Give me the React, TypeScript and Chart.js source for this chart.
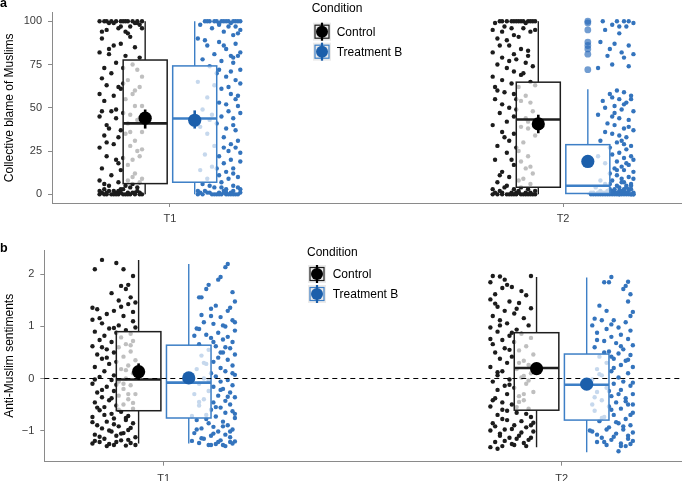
import React, { useEffect, useRef } from "react";
import { Chart, registerables } from "chart.js";
Chart.register(...registerables);

// ---------- data ----------
const categories = ["T1", "T2"];
const conditions = ["Control", "Treatment B"];
const blameTicks = [0, 25, 50, 75, 100];
const sentimentTicks = [-1, 0, 1, 2];

// Panel a: box / mean statistics, index 0 = T1, 1 = T2
const blameControlQ1 = [6.2, 4.1];
const blameControlMedian = [41, 43.2];
const blameControlQ3 = [77.6, 64.8];
const blameControlWhiskerLow = [0, 0];
const blameControlWhiskerHigh = [100, 100];
const blameControlMean = [44, 40.7];
const blameControlCiLow = [38, 35.3];
const blameControlCiHigh = [49, 46];

const blameTreatQ1 = [7, 0.5];
const blameTreatMedian = [43.8, 5];
const blameTreatQ3 = [74.2, 28.7];
const blameTreatWhiskerLow = [0, 0];
const blameTreatWhiskerHigh = [100, 60.7];
const blameTreatMean = [42.8, 19];
const blameTreatCiLow = [38, 16];
const blameTreatCiHigh = [48.5, 22.4];
const blameTreatT2Outliers = [100, 99, 95, 88, 86, 84, 81, 72];

// Panel b
const sentControlQ1 = [-0.62, -0.61];
const sentControlMedian = [-0.02, 0.2];
const sentControlQ3 = [0.9, 0.88];
const sentControlWhiskerLow = [-1.25, -1.32];
const sentControlWhiskerHigh = [2.28, 1.95];
const sentControlMean = [0.13, 0.19];
const sentControlCiLow = [-0.03, 0.08];
const sentControlCiHigh = [0.29, 0.3];

const sentTreatQ1 = [-0.76, -0.8];
const sentTreatMedian = [-0.08, -0.12];
const sentTreatQ3 = [0.64, 0.47];
const sentTreatWhiskerLow = [-1.25, -1.42];
const sentTreatWhiskerHigh = [2.2, 1.94];
const sentTreatMean = [0.01, -0.11];
const sentTreatCiLow = [-0.1, -0.22];
const sentTreatCiHigh = [0.12, 0.0];

// jittered raw responses: [jitter step, value]
const blameControlT1: [number, number][] = [[-7,100],[-4,100],[-2,100],[0,100],[1,100],[3,100],[5,100],[7,100],[9,100],[-9,100],[6,99],[-5,99],[8,98],
[-1,96],[4,97],[-6,95],[2,94],[9,96],[-8,90],[3,93],
[0,87],[-3,86],[6,85],[-9,82],[-5,81],[2,80],[8,79],
[-2,76],[5,75],[-7,73],[1,73],[-4,70],[7,72],[9,68],
[-8,67],[3,66],[-6,63],[0,61],[-1,62],[6,60],[8,62],
[-3,57],[2,55],[-7,54],[5,58],[9,51],
[-8,48],[-4,48],[-2,49],[1,47],[4,46],[7,43],[-9,45],[3,41],[8,44],[-6,40],
[-5,38],[0,37],[2,35],[-7,34],[6,31],[-1,33],[9,36],
[-3,29],[-9,27],[4,28],[7,25],[-6,22],[1,21],[-2,20],[5,20],[8,22],
[-8,15],[0,14],[3,17],[-4,11],[6,12],[9,9],
[-9,8],[-5,5],[-1,7],[2,5],[5,6],[8,7],[-7,3],[-3,2],[0,3],[4,4],[7,2],
[-9,0],[-8,1],[-6,0],[-4,0],[-2,1],[-1,0],[1,0],[3,1],[4,0],[6,0],[8,1],[9,0],[-7,0],[-1,2],[2,0],[5,1],
[-6,100],[2,100],[-3,99],[7,99],[0,97],[-8,94],[4,91],[-5,84],[1,64],[-9,58],[6,51],[-2,44],[4,36],[-6,30],[9,26],[-1,18],[5,10],[-7,6],[3,8],[-5,2],[1,3],[7,4],[-9,2],[-2,0],[0,1],[6,1],[-6,1],[3,0],[8,0],[-3,0]];

const blameTreatT1: [number, number][] = [[-6,100],[-4,100],[-1,100],[1,100],[3,100],[4,100],[6,100],[8,100],[9,100],[0,99],[-8,98],[5,99],[7,97],
[-3,96],[2,94],[6,92],[-9,90],[9,95],[0,88],[-5,86],[7,87],[3,84],[9,82],[-2,81],[5,80],[8,80],[-7,78],[1,77],[6,76],
[-4,74],[0,72],[5,71],[9,72],[3,68],[7,66],[-9,65],[-2,63],[9,64],[1,61],[5,58],[-5,56],[7,55],[0,53],[3,52],[8,51],
[-7,49],[4,48],[-3,46],[1,45],[6,44],[9,47],[-1,41],[-8,39],[3,38],[7,37],[-5,35],[2,33],[8,31],[5,29],[-2,28],[7,27],[4,25],
[-6,23],[0,22],[9,24],[5,20],[2,18],[-3,16],[6,15],[-8,14],[3,13],[0,11],[-5,9],[4,9],[8,10],[-7,6],[1,7],[6,5],
[-2,4],[3,3],[-9,2],[9,3],[-5,1],[-4,1],[0,1],[2,2],[5,1],[7,0],[-7,0],[-1,0],[3,0],[8,0],[-9,0],[1,0],[5,0],[-3,0],[9,1],[6,2],
[-2,100],[2,100],[7,100],[-5,100],[0,98],[4,97],[8,93],[-6,89],[2,86],[6,79],[-1,70],[4,62],[8,57],[-4,43],[6,40],[2,27],[9,19],[-1,15],[6,12],[-4,5],[1,4],[8,4],[-6,2],[3,1],[-2,0],[4,0],[6,0],[0,0],[-8,1],[2,1]];

const blameControlT2: [number, number][] = [[-6,100],[-3,100],[0,100],[2,100],[3,100],[4,100],[6,100],[8,100],[-8,99],[5,99],
[-9,95],[-5,94],[-1,96],[7,94],[9,95],[-7,90],[-3,89],[2,91],[-2,86],[3,84],[-9,82],[0,81],[6,83],[-5,79],[1,78],[-7,75],[5,76],[-3,73],[8,74],[0,71],
[-9,68],[3,69],[-5,66],[7,65],[-1,64],[2,62],[9,63],[-7,60],[-4,59],[0,58],[5,57],[-8,55],[3,54],[-5,52],[7,53],[-2,50],[1,49],[-6,47],[8,48],[0,45],[5,44],[-3,42],
[-9,40],[3,39],[6,38],[-5,36],[0,35],[9,34],[-2,31],[4,30],[-7,28],[1,27],[-3,24],[6,22],[-8,20],[3,19],[0,17],[5,15],[-5,13],[8,12],[-2,10],[2,8],[-7,7],[7,6],
[-3,5],[3,4],[-9,3],[0,3],[9,2],[-5,1],[-1,1],[1,1],[5,1],[-7,0],[-3,0],[0,0],[3,0],[6,0],[-9,0],[-2,0],[4,0],[8,0],[-6,2],[2,2],[7,1],[9,0],
[-5,100],[-1,100],[1,100],[7,100],[9,100],[-4,97],[4,96],[0,92],[-6,86],[6,80],[-2,77],[4,70],[-8,62],[1,55],[6,42],[-4,33],[2,25],[-1,20],[7,16],[-6,11],[4,9],[-4,4],[6,3],[-8,1],[2,1],[-1,0],[5,0],[7,0],[1,0],[-5,0]];

const blameTreatT2: [number, number][] = [[-4,100],[2,100],[7,100],[9,99],[0,98],[6,97],[-3,95],[3,93],[-5,88],[1,87],[7,86],[-1,84],[4,82],[9,81],[-2,80],[5,79],[0,75],[-6,73],[7,74],
[2,60],[5,59],[-1,58],[8,57],[0,56],[3,55],[-4,54],[6,53],[1,51],[-3,50],[4,49],[9,48],[-6,46],[0,45],[3,44],[7,43],[-2,41],[1,40],[5,38],[9,37],[-3,36],[0,35],[3,34],[6,33],[-5,31],[2,30],[5,29],[8,28],[-1,27],[6,26],[3,24],[0,23],[-6,22],[5,21],[9,20],[2,19],[-3,18],[7,17],[4,16],[1,15],[5,14],[9,13],
[-1,12],[2,11],[7,10],[4,9],[-5,8],[0,8],[5,7],[8,6],[-3,6],[2,5],[6,5],[-7,4],[3,4],[-1,3],[5,3],[8,3],[0,2],[-5,2],[3,2],[7,2],[-9,1],[-3,1],[1,1],[4,1],[9,1],[-7,0],[-2,0],[0,0],[2,0],[6,0],[-9,0],[-5,0],[1,0],[4,0],[8,0],[-4,0],[3,0],[5,0],[7,0],[9,0],[-8,1],[-6,1],[-1,0],
[-8,0],[-6,0],[-3,0],[0,1],[2,1],[4,2],[6,1],[8,0],[-2,2],[1,3],[3,0],[5,2],[7,3],[9,0],[-4,1],[6,4],[8,5],[-1,6],[4,7],[9,9],[2,14],[6,18],[8,22],[4,31],[7,39],[1,47],[5,52],[8,55],[3,97],[5,100]];

const sentControlT1: [number, number][] = [[-5,2.28],[1,2.22],[-8,2.1],[4,2.1],[8,1.97],[6,1.8],[3,1.78],[5,1.72],[-1,1.64],[7,1.56],[2,1.5],[9,1.46],[6,1.43],[-9,1.36],[-7,1.33],[0,1.3],[-3,1.24],[4,1.2],[-9,1.13],[8,1.1],[-5,1.06],[2,1.02],[9,0.98],[-2,0.96],[5,0.93],[-8,0.9],[1,0.88],[7,0.86],[-4,0.82],[3,0.79],[-6,0.74],[8,0.72],[-1,0.7],[5,0.66],[-9,0.62],[2,0.6],[-3,0.56],[7,0.52],[0,0.5],[-7,0.46],[4,0.42],[-5,0.38],[9,0.35],[1,0.32],[-2,0.28],[6,0.25],[-8,0.22],[3,0.18],[-4,0.14],[8,0.1],[0,0.06],[-6,0.03],[5,0.0],[-1,-0.03],[2,-0.06],[-9,-0.1],[7,-0.13],[-3,-0.16],[4,-0.2],[0,-0.24],[-7,-0.27],[9,-0.3],[2,-0.33],[-5,-0.36],[6,-0.4],[-2,-0.42],[-8,-0.46],[4,-0.5],[1,-0.52],[-4,-0.55],[8,-0.58],[-6,-0.61],[3,-0.64],[-1,-0.68],[6,-0.72],[-9,-0.74],[0,-0.77],[5,-0.8],[-3,-0.83],[8,-0.86],[-7,-0.9],[2,-0.92],[-5,-0.96],[6,-0.99],[-1,-1.02],[4,-1.05],[-8,-1.08],[1,-1.1],[9,-1.13],[-4,-1.16],[3,-1.19],[-6,-1.22],[7,-1.24],[-2,-1.26],[0,-1.28],[-9,-1.25],[5,-1.29],
[3,1.38],[-6,1.16],[0,0.97],[7,0.64],[-3,0.4],[5,0.16],[-8,-0.02],[1,-0.12],[-5,-0.22],[6,-0.3],[-1,-0.38],[8,-0.47],[-7,-0.56],[2,-0.6],[-4,-0.7],[5,-0.76],[-9,-0.84],[0,-0.88],[7,-0.95],[-2,-1.0],[3,-1.06],[-6,-1.12],[6,-1.18],[-8,-1.2],[1,-1.22],[9,-1.28],[-3,-1.3],[4,-0.1],[-5,0.6],[8,1.28]];

const sentTreatT1: [number, number][] = [[6,2.2],[5,2.14],[3,1.95],[-2,1.8],[-3,1.72],[8,1.66],[-6,1.56],[9,1.48],[1,1.4],[-1,1.34],[6,1.3],[-5,1.22],[3,1.18],[8,1.12],[-4,1.08],[0,1.05],[5,1.0],[-7,0.96],[9,0.92],[2,0.88],[-3,0.84],[6,0.8],[-1,0.78],[4,0.75],[8,0.7],[-6,0.66],[1,0.62],[7,0.58],[-2,0.55],[4,0.5],[9,0.46],[-5,0.44],[2,0.4],[6,0.36],[0,0.32],[-3,0.28],[8,0.25],[3,0.2],[-7,0.18],[5,0.14],[-1,0.1],[9,0.07],[1,0.04],[-4,0.0],[6,-0.03],[3,-0.06],[-6,-0.1],[8,-0.13],[0,-0.16],[4,-0.2],[-2,-0.24],[7,-0.27],[-8,-0.3],[2,-0.33],[9,-0.36],[-4,-0.4],[5,-0.43],[0,-0.46],[7,-0.5],[-6,-0.52],[3,-0.56],[-1,-0.6],[8,-0.63],[5,-0.66],[-3,-0.7],[1,-0.73],[9,-0.76],[-7,-0.8],[4,-0.83],[-2,-0.86],[6,-0.9],[0,-0.93],[-5,-0.96],[8,-0.98],[2,-1.02],[-8,-1.05],[5,-1.08],[-1,-1.1],[7,-1.13],[-4,-1.16],[3,-1.19],[9,-1.21],[-6,-1.24],[1,-1.26],[-2,-1.28],[4,-1.28],[-9,-1.2],[7,-1.22],
[2,1.9],[-5,1.56],[7,1.36],[-1,1.2],[4,1.02],[-8,0.82],[0,0.7],[5,0.6],[-4,0.3],[8,0.1],[-2,-0.04],[3,-0.22],[6,-0.35],[-6,-0.45],[1,-0.55],[9,-0.68],[-3,-0.78],[4,-0.92],[-7,-0.98],[7,-1.02],[0,-1.06],[-5,-1.15],[2,-1.22],[8,-1.25],[-1,-1.28],[5,-1.3],[-9,-0.72],[3,0.5],[-6,0.95],[9,1.08]];

const sentControlT2: [number, number][] = [[-8,1.97],[-5,1.96],[8,1.97],[-9,1.85],[-2,1.8],[-4,1.74],[0,1.76],[-7,1.62],[6,1.6],[-9,1.52],[-1,1.48],[3,1.45],[-6,1.38],[8,1.35],[-3,1.3],[1,1.25],[-8,1.2],[5,1.16],[-5,1.12],[-2,1.06],[7,1.02],[-9,0.98],[2,0.94],[-6,0.9],[4,0.86],[-1,0.82],[8,0.78],[-4,0.74],[1,0.7],[-8,0.66],[6,0.62],[-3,0.58],[3,0.54],[-7,0.5],[9,0.46],[0,0.42],[-5,0.38],[5,0.34],[-2,0.3],[7,0.26],[-9,0.22],[2,0.18],[-4,0.14],[8,0.1],[-6,0.06],[4,0.02],[-1,-0.02],[-8,-0.06],[6,-0.1],[-3,-0.14],[1,-0.18],[-6,-0.22],[9,-0.26],[-2,-0.3],[3,-0.34],[-7,-0.38],[5,-0.42],[-4,-0.46],[0,-0.5],[-9,-0.54],[7,-0.58],[-2,-0.62],[2,-0.66],[-6,-0.7],[8,-0.74],[-4,-0.78],[4,-0.82],[-8,-0.86],[1,-0.9],[6,-0.94],[-3,-0.98],[9,-1.02],[-5,-1.06],[3,-1.1],[-1,-1.14],[7,-1.18],[-7,-1.22],[0,-1.26],[-4,-1.3],[-6,-1.35],[5,-1.24],[2,-1.16],[-9,-1.0],[8,-0.9],
[-3,1.9],[4,1.68],[-7,1.44],[2,1.34],[-5,1.02],[0,0.88],[-9,0.76],[3,0.3],[-6,0.12],[7,-0.04],[-1,-0.12],[5,-0.3],[-8,-0.42],[2,-0.55],[-4,-0.6],[6,-0.68],[-2,-0.8],[9,-0.85],[-7,-0.92],[0,-0.97],[4,-1.04],[-5,-1.1],[8,-1.14],[-3,-1.2],[1,-1.28],[6,-1.3],[-9,-1.32],[3,-0.45],[-1,0.55],[5,0.05]];

const sentTreatT2: [number, number][] = [[0,1.95],[-3,1.85],[-1,1.85],[7,1.86],[6,1.78],[8,1.62],[7,1.48],[-5,1.4],[9,1.28],[-7,1.15],[-4,1.12],[1,1.12],[6,1.08],[-8,1.02],[3,0.98],[-2,0.95],[8,0.92],[-6,0.88],[4,0.84],[0,0.8],[7,0.76],[-3,0.72],[2,0.68],[9,0.64],[-7,0.6],[5,0.56],[-1,0.52],[3,0.48],[8,0.45],[-5,0.42],[1,0.38],[6,0.34],[-2,0.3],[4,0.26],[9,0.22],[-6,0.18],[0,0.14],[7,0.1],[-4,0.06],[3,0.02],[-8,-0.02],[5,-0.06],[1,-0.1],[8,-0.14],[-2,-0.18],[4,-0.22],[-6,-0.26],[9,-0.3],[0,-0.34],[6,-0.38],[-4,-0.42],[2,-0.46],[7,-0.5],[-1,-0.54],[4,-0.58],[-7,-0.62],[9,-0.66],[1,-0.7],[-3,-0.74],[6,-0.78],[-5,-0.82],[3,-0.86],[8,-0.9],[-1,-0.94],[5,-0.98],[-8,-1.02],[2,-1.06],[7,-1.1],[-4,-1.14],[0,-1.18],[9,-1.2],[-6,-1.22],[4,-1.25],[-2,-1.28],[6,-1.3],[3,-1.4],[-9,-1.0],[9,-0.5],
[5,1.72],[-2,1.3],[8,1.2],[0,1.04],[-6,0.74],[4,0.62],[-3,0.5],[7,0.36],[1,0.2],[-5,0.08],[9,-0.08],[-1,-0.24],[3,-0.3],[-7,-0.36],[6,-0.44],[0,-0.6],[8,-0.7],[-4,-0.76],[2,-0.84],[5,-0.92],[-2,-0.98],[9,-1.04],[-6,-1.08],[1,-1.12],[7,-1.16],[-3,-1.22],[4,-1.3],[8,-1.26],[-8,-0.5],[0,0.42]];

// ---------- styling / layout constants ----------
const FONT = '"Liberation Sans", Arial, Helvetica, sans-serif';
const AXIS_GREY = "#8a8a8a";
const TICK_TEXT = "#3a3a3a";
const CONTROL_POINT = "#1c1c1c";
const TREAT_POINT = "#3474bd";
const CONTROL_LINE = "#1e1e1e";
const TREAT_LINE = "#3d7fc6";
const CONTROL_MEAN = "#000000";
const TREAT_MEAN = "#1c5fab";
const POINT_SHIFT = 0.125;
const JITTER_STEP = 0.006;
const BOX_SHIFT = 0.063;
const BOX_WIDTH = 0.112;

type Stats = {
  center: number; line: string; mean: string;
  q1: number; med: number; q3: number; lo: number; hi: number;
  m: number; ciLo: number; ciHi: number; outliers?: number[];
};

type PanelCfg = {
  letter: string;
  letterY: number;
  yTitle: string;
  yMin: number; yMax: number; yTicks: number[];
  axisWidth: number; padTop: number; xAxisHeight: number; xLabelPad: number;
  hline?: number;
  legend: { titleX: number; titleY: number; keyX: number; keyYs: number[]; textX: number };
  groups: Stats[];
  control: [number, number][][];
  treat: [number, number][][];
};

function makeStats(
  idx: number, side: number, line: string, mean: string,
  q1: number[], med: number[], q3: number[], lo: number[], hi: number[],
  m: number[], ciLo: number[], ciHi: number[], outliers?: number[]
): Stats {
  return {
    center: idx + 1 + side * BOX_SHIFT, line, mean,
    q1: q1[idx], med: med[idx], q3: q3[idx], lo: lo[idx], hi: hi[idx],
    m: m[idx], ciLo: ciLo[idx], ciHi: ciHi[idx], outliers,
  };
}

const toPoints = (pts: [number, number][], idx: number, side: number) =>
  pts.map(([j, v]) => ({ x: idx + 1 + side * POINT_SHIFT + j * JITTER_STEP, y: v }));

function makeDecor(cfg: PanelCfg) {
  return {
    id: "panelDecor",
    afterDatasetsDraw(chart: any) {
      const { ctx, scales } = chart;
      const xs = scales.x, ys = scales.y;
      const area = chart.chartArea;
      ctx.save();
      for (const g of cfg.groups) {
        const xc = xs.getPixelForValue(g.center);
        const xl = xs.getPixelForValue(g.center - BOX_WIDTH / 2);
        const xr = xs.getPixelForValue(g.center + BOX_WIDTH / 2);
        const yq1 = ys.getPixelForValue(g.q1);
        const yq3 = ys.getPixelForValue(g.q3);
        const ymed = ys.getPixelForValue(g.med);
        const ylo = ys.getPixelForValue(g.lo);
        const yhi = ys.getPixelForValue(g.hi);
        ctx.strokeStyle = g.line;
        ctx.lineWidth = 1.4;
        ctx.beginPath();
        ctx.moveTo(xc, yq3); ctx.lineTo(xc, yhi);
        ctx.moveTo(xc, yq1); ctx.lineTo(xc, ylo);
        ctx.stroke();
        ctx.fillStyle = "rgba(255,255,255,0.72)";
        ctx.fillRect(xl, yq3, xr - xl, yq1 - yq3);
        ctx.lineWidth = 1.5;
        ctx.strokeRect(xl, yq3, xr - xl, yq1 - yq3);
        ctx.lineWidth = 2.6;
        ctx.beginPath();
        ctx.moveTo(xl, ymed); ctx.lineTo(xr, ymed);
        ctx.stroke();
        if (g.outliers) {
          ctx.fillStyle = "rgba(38,104,184,0.65)";
          for (const o of g.outliers) {
            ctx.beginPath();
            ctx.arc(xc, ys.getPixelForValue(o), 3.4, 0, Math.PI * 2);
            ctx.fill();
          }
        }
      }
      if (cfg.hline !== undefined) {
        const yh = ys.getPixelForValue(cfg.hline);
        ctx.strokeStyle = "#000";
        ctx.lineWidth = 1.2;
        ctx.setLineDash([5, 4]);
        ctx.beginPath();
        ctx.moveTo(area.left, yh); ctx.lineTo(area.right, yh);
        ctx.stroke();
        ctx.setLineDash([]);
      }
      for (const g of cfg.groups) {
        const xc = xs.getPixelForValue(g.center);
        ctx.strokeStyle = g.mean;
        ctx.fillStyle = g.mean;
        ctx.lineWidth = 2.6;
        ctx.beginPath();
        ctx.moveTo(xc, ys.getPixelForValue(g.ciLo));
        ctx.lineTo(xc, ys.getPixelForValue(g.ciHi));
        ctx.stroke();
        ctx.beginPath();
        ctx.arc(xc, ys.getPixelForValue(g.m), 6.6, 0, Math.PI * 2);
        ctx.fill();
      }
      ctx.restore();
    },
    afterDraw(chart: any) {
      const { ctx } = chart;
      const L = cfg.legend;
      ctx.save();
      ctx.fillStyle = "#000";
      ctx.font = `bold 12.5px ${FONT}`;
      ctx.textAlign = "left";
      ctx.textBaseline = "alphabetic";
      ctx.fillText(cfg.letter, 0, cfg.letterY);
      ctx.font = `12px ${FONT}`;
      ctx.textBaseline = "middle";
      ctx.fillText("Condition", L.titleX, L.titleY);
      conditions.forEach((name, i) => {
        const cy = L.keyYs[i];
        const kx = L.keyX;
        const lineCol = i === 0 ? CONTROL_LINE : TREAT_LINE;
        const meanCol = i === 0 ? CONTROL_MEAN : TREAT_MEAN;
        ctx.fillStyle = "#ebebeb";
        ctx.fillRect(kx, cy - 9, 18, 18);
        ctx.strokeStyle = lineCol;
        ctx.lineWidth = 1.2;
        ctx.strokeRect(kx + 2, cy - 6.5, 14, 13);
        ctx.strokeStyle = meanCol;
        ctx.lineWidth = 2.2;
        ctx.beginPath();
        ctx.moveTo(kx + 9, cy - 9); ctx.lineTo(kx + 9, cy + 9);
        ctx.stroke();
        ctx.fillStyle = meanCol;
        ctx.beginPath();
        ctx.arc(kx + 9, cy, 6, 0, Math.PI * 2);
        ctx.fill();
        ctx.fillStyle = "#000";
        ctx.fillText(name, L.textX, cy + 0.5);
      });
      ctx.restore();
    },
  };
}

function buildChart(canvas: HTMLCanvasElement, cfg: PanelCfg) {
  const datasets: any[] = [];
  categories.forEach((_, i) => {
    datasets.push({
      label: `${conditions[0]} ${categories[i]}`,
      data: toPoints(cfg.control[i], i, -1),
      backgroundColor: CONTROL_POINT,
      pointRadius: 2.2,
      pointBorderWidth: 0,
    });
    datasets.push({
      label: `${conditions[1]} ${categories[i]}`,
      data: toPoints(cfg.treat[i], i, 1),
      backgroundColor: TREAT_POINT,
      pointRadius: 2.2,
      pointBorderWidth: 0,
    });
  });
  return new Chart(canvas, {
    type: "scatter",
    data: { datasets },
    plugins: [makeDecor(cfg)],
    options: {
      animation: false,
      responsive: false,
      devicePixelRatio: 1,
      layout: { padding: { top: cfg.padTop, left: 0, right: 0, bottom: 0 } },
      plugins: { legend: { display: false }, tooltip: { enabled: false } },
      scales: {
        x: {
          type: "linear",
          min: 0.7,
          max: 2.3,
          afterBuildTicks: (s: any) => { s.ticks = categories.map((_, i) => ({ value: i + 1 })); },
          afterFit: (s: any) => { s.height = cfg.xAxisHeight; },
          ticks: {
            autoSkip: false,
            maxRotation: 0,
            padding: cfg.xLabelPad,
            color: TICK_TEXT,
            font: { family: FONT, size: 11 },
            callback: (v: any) => categories[Math.round(Number(v)) - 1] ?? "",
          },
          grid: { drawOnChartArea: false, drawTicks: true, tickLength: 4, color: AXIS_GREY },
          border: { display: true, color: AXIS_GREY, width: 1 },
        },
        y: {
          type: "linear",
          min: cfg.yMin,
          max: cfg.yMax,
          afterBuildTicks: (s: any) => { s.ticks = cfg.yTicks.map((v) => ({ value: v })); },
          afterFit: (s: any) => { s.width = cfg.axisWidth; },
          ticks: {
            padding: 6,
            color: TICK_TEXT,
            font: { family: FONT, size: 11 },
            callback: (v: any) => (Number(v) < 0 ? "\u2212" + Math.abs(Number(v)) : String(v)),
          },
          grid: { drawOnChartArea: false, drawTicks: true, tickLength: 4, color: AXIS_GREY },
          border: { display: true, color: AXIS_GREY, width: 1 },
          title: {
            display: true,
            text: cfg.yTitle,
            color: "#000",
            font: { family: FONT, size: 12 },
            padding: { top: 2, bottom: 0 },
          },
        },
      },
    },
  } as any);
}

const panelA: PanelCfg = {
  letter: "a",
  letterY: 6.5,
  yTitle: "Collective blame of Muslims",
  yMin: -5, yMax: 105, yTicks: blameTicks,
  axisWidth: 52, padTop: 8.6, xAxisHeight: 27, xLabelPad: 5,
  legend: { titleX: 311.7, titleY: 9, keyX: 313, keyYs: [31.7, 51.7], textX: 336.7 },
  groups: [
    makeStats(0, -1, CONTROL_LINE, CONTROL_MEAN, blameControlQ1, blameControlMedian, blameControlQ3, blameControlWhiskerLow, blameControlWhiskerHigh, blameControlMean, blameControlCiLow, blameControlCiHigh),
    makeStats(0, 1, TREAT_LINE, TREAT_MEAN, blameTreatQ1, blameTreatMedian, blameTreatQ3, blameTreatWhiskerLow, blameTreatWhiskerHigh, blameTreatMean, blameTreatCiLow, blameTreatCiHigh),
    makeStats(1, -1, CONTROL_LINE, CONTROL_MEAN, blameControlQ1, blameControlMedian, blameControlQ3, blameControlWhiskerLow, blameControlWhiskerHigh, blameControlMean, blameControlCiLow, blameControlCiHigh),
    makeStats(1, 1, TREAT_LINE, TREAT_MEAN, blameTreatQ1, blameTreatMedian, blameTreatQ3, blameTreatWhiskerLow, blameTreatWhiskerHigh, blameTreatMean, blameTreatCiLow, blameTreatCiHigh, blameTreatT2Outliers),
  ],
  control: [blameControlT1, blameControlT2],
  treat: [blameTreatT1, blameTreatT2],
};

const panelB: PanelCfg = {
  letter: "b",
  letterY: 21.7,
  yTitle: "Anti-Muslim sentiments",
  yMin: -1.6, yMax: 2.47, yTicks: sentimentTicks,
  axisWidth: 44.3, padTop: 20, xAxisHeight: 19.3, xLabelPad: 7,
  hline: 0,
  legend: { titleX: 307, titleY: 22.3, keyX: 308, keyYs: [44, 64], textX: 332.7 },
  groups: [
    makeStats(0, -1, CONTROL_LINE, CONTROL_MEAN, sentControlQ1, sentControlMedian, sentControlQ3, sentControlWhiskerLow, sentControlWhiskerHigh, sentControlMean, sentControlCiLow, sentControlCiHigh),
    makeStats(0, 1, TREAT_LINE, TREAT_MEAN, sentTreatQ1, sentTreatMedian, sentTreatQ3, sentTreatWhiskerLow, sentTreatWhiskerHigh, sentTreatMean, sentTreatCiLow, sentTreatCiHigh),
    makeStats(1, -1, CONTROL_LINE, CONTROL_MEAN, sentControlQ1, sentControlMedian, sentControlQ3, sentControlWhiskerLow, sentControlWhiskerHigh, sentControlMean, sentControlCiLow, sentControlCiHigh),
    makeStats(1, 1, TREAT_LINE, TREAT_MEAN, sentTreatQ1, sentTreatMedian, sentTreatQ3, sentTreatWhiskerLow, sentTreatWhiskerHigh, sentTreatMean, sentTreatCiLow, sentTreatCiHigh),
  ],
  control: [sentControlT1, sentControlT2],
  treat: [sentTreatT1, sentTreatT2],
};

function Panel({ cfg, height }: { cfg: PanelCfg; height: number }) {
  const ref = useRef<HTMLCanvasElement | null>(null);
  useEffect(() => {
    if (!ref.current) return;
    const chart = buildChart(ref.current, cfg);
    return () => chart.destroy();
  }, [cfg]);
  return (
    <canvas ref={ref} width={685} height={height} style={{ display: "block", width: 685, height }} />
  );
}

export default function App() {
  return (
    <div style={{ position: "absolute", left: 0, top: 0, width: 685, height: 481, background: "#fff", overflow: "hidden" }}>
      <Panel cfg={panelA} height={230} />
      <Panel cfg={panelB} height={251} />
    </div>
  );
}
